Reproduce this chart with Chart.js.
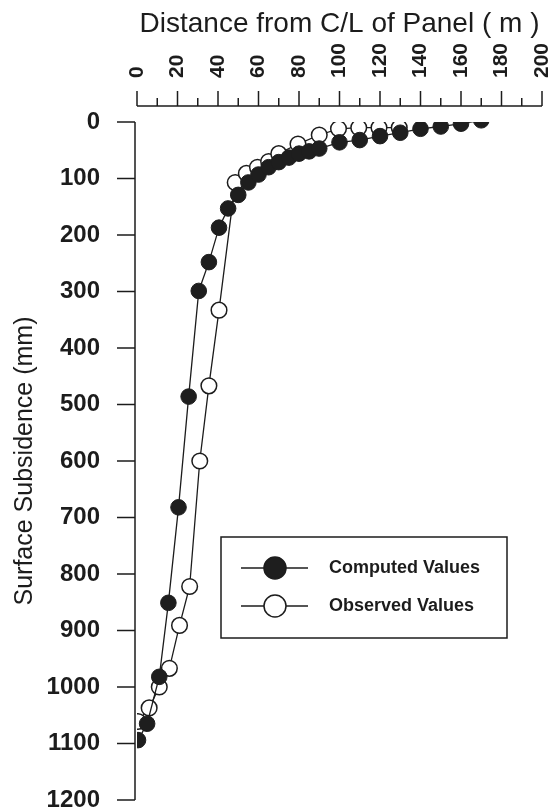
<!DOCTYPE html>
<html>
<head>
<meta charset="utf-8">
<script src="https://cdn.jsdelivr.net/npm/chart.js@4.4.0/dist/chart.umd.min.js"></script>
<style>
  html, body { margin:0; padding:0; background:#fff; }
  #wrap { width:554px; height:811px; }
</style>
</head>
<body>
<div id="wrap"><canvas id="chart" width="554" height="811"></canvas></div>
<script>
// Data (distance m, subsidence mm)
const computedX = [0.5, 5, 11, 15.5, 20.5, 25.5, 30.5, 35.5, 40.5, 45, 50, 55, 60, 65, 70, 75, 80, 85, 90, 100, 110, 120, 130, 140, 150, 160, 170];
const computedY = [1094, 1065, 982, 851, 682, 486, 299, 248, 187, 153, 129, 107, 93, 80, 71, 63, 56, 52, 47, 36, 32, 25, 19, 12, 8, 3, -3];
const observedX = [0.5, 6, 11, 16, 21, 26, 31, 35.5, 40.5, 48.5, 54, 59.5, 65, 70, 79.5, 90, 99.5, 109.5, 119.5, 129.5];
const observedY = [1061, 1037, 1000, 967, 891, 822, 600, 467, 333, 107, 91, 80, 70, 56, 39, 23, 12, 10, 10, 10];

const xTicks = [0, 20, 40, 60, 80, 100, 120, 140, 160, 180, 200];
const yTicks = [0, 100, 200, 300, 400, 500, 600, 700, 800, 900, 1000, 1100, 1200];

const FONT = "'Liberation Sans', Arial, sans-serif";
const INK = "#1c1c1c";

const toPoints = (xs, ys) => xs.map((x, i) => ({ x: x, y: ys[i] }));

// Offset axis lines + ticks (major/minor) drawn from the scales
const axesPlugin = {
  id: "axes",
  afterDraw(chart){
    const ctx = chart.ctx, xs = chart.scales.x, ys = chart.scales.y;
    const area = chart.chartArea;
    ctx.save();
    ctx.strokeStyle = INK;
    ctx.lineWidth = 1.5;

    // top axis
    const ax = area.top - 16;
    ctx.beginPath();
    ctx.moveTo(xs.getPixelForValue(0), ax);
    ctx.lineTo(xs.getPixelForValue(200), ax);
    for(let v = 0; v <= 200; v += 10){
      const px = xs.getPixelForValue(v);
      const len = v % 20 === 0 ? 15 : 8;
      ctx.moveTo(px, ax);
      ctx.lineTo(px, ax - len);
    }
    ctx.stroke();

    // left axis
    const ay = area.left - 2;
    ctx.beginPath();
    ctx.moveTo(ay, ys.getPixelForValue(0));
    ctx.lineTo(ay, ys.getPixelForValue(1200));
    yTicks.forEach(v => {
      const py = ys.getPixelForValue(v);
      ctx.moveTo(ay, py);
      ctx.lineTo(ay - 18, py);
    });
    ctx.stroke();
    ctx.restore();
  }
};

// Boxed legend inside the plot
const legendPlugin = {
  id: "boxLegend",
  afterDraw(chart){
    const ctx = chart.ctx;
    const box = { x:221, y:537, w:286, h:101 };
    ctx.save();
    ctx.strokeStyle = INK;
    ctx.lineWidth = 1.5;
    ctx.strokeRect(box.x, box.y, box.w, box.h);

    chart.data.datasets.forEach((ds, i) => {
      const cy = box.y + 31 + i * 38;
      ctx.beginPath();
      ctx.moveTo(box.x + 20, cy);
      ctx.lineTo(box.x + 87, cy);
      ctx.stroke();
      ctx.beginPath();
      ctx.arc(box.x + 54, cy, 11, 0, Math.PI * 2);
      ctx.fillStyle = ds.pointBackgroundColor;
      ctx.fill();
      ctx.stroke();
      ctx.fillStyle = INK;
      ctx.font = "bold 18px " + FONT;
      ctx.textBaseline = "middle";
      ctx.fillText(ds.label, box.x + 108, cy);
    });
    ctx.restore();
  }
};

new Chart(document.getElementById("chart"), {
  type: "scatter",
  data: {
    datasets: [
      {
        label: "Computed Values",
        data: toPoints(computedX, computedY),
        showLine: true,
        borderColor: INK,
        borderWidth: 1.3,
        pointRadius: 7.8,
        pointBackgroundColor: "#1e1e1e",
        pointBorderColor: "#1e1e1e",
        pointBorderWidth: 1
      },
      {
        label: "Observed Values",
        data: toPoints(observedX, observedY),
        showLine: true,
        borderColor: INK,
        borderWidth: 1.3,
        pointRadius: 7.8,
        pointBackgroundColor: "#ffffff",
        pointBorderColor: INK,
        pointBorderWidth: 1.5
      }
    ]
  },
  options: {
    responsive: false,
    animation: false,
    layout: { padding: { left:0, top:0, right:12, bottom:11 } },
    plugins: { legend: { display:false }, tooltip: { enabled:false } },
    scales: {
      x: {
        type: "linear",
        position: "top",
        min: 0, max: 200,
        afterBuildTicks: s => { s.ticks = xTicks.map(v => ({ value: v })); },
        afterFit: s => { s.height = 122; s.paddingLeft = 0; s.paddingRight = 0; },
        grid: { display:false, drawTicks:false },
        border: { display:false },
        ticks: {
          minRotation: 90, maxRotation: 90,
          padding: 44,
          labelOffset: 21,
          color: INK,
          font: { family: FONT, size: 21, weight: "bold", lineHeight: 1 }
        },
        title: {
          display: true,
          text: "Distance from C/L of Panel ( m )",
          color: INK,
          padding: { top: 7, bottom: 0 },
          font: { family: FONT, size: 28 }
        }
      },
      y: {
        type: "linear",
        reverse: true,
        min: 0, max: 1200,
        afterBuildTicks: s => { s.ticks = yTicks.map(v => ({ value: v })); },
        afterFit: s => { s.width = 137; s.paddingTop = 0; s.paddingBottom = 0; },
        grid: { display:false, drawTicks:false },
        border: { display:false },
        ticks: {
          padding: 37,
          color: INK,
          callback: v => String(v),
          font: { family: FONT, size: 24, weight: "bold", lineHeight: 0.9 }
        },
        title: {
          display: true,
          text: "Surface Subsidence (mm)",
          color: INK,
          padding: { top: 10, bottom: 0 },
          font: { family: FONT, size: 25 }
        }
      }
    }
  },
  plugins: [axesPlugin, legendPlugin]
});
</script>
</body>
</html>
